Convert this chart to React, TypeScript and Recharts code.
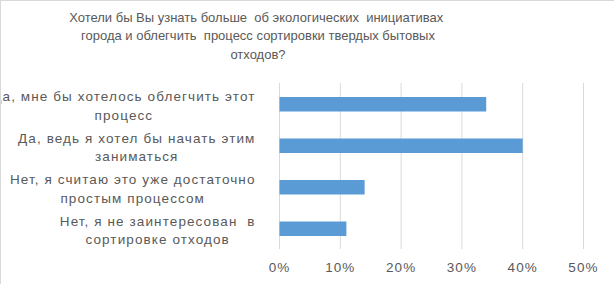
import React from 'react';
import { BarChart, Bar, XAxis, YAxis, CartesianGrid } from 'recharts';

const titleLines = [
  'Хотели бы Вы узнать больше  об экологических  инициативах ',
  'города и облегчить  процесс сортировки твердых бытовых',
  'отходов?',
];

const categories = [
  ['Да, мне бы хотелось облегчить этот', 'процесс'],
  ['Да, ведь я хотел бы начать этим', 'заниматься'],
  ['Нет, я считаю это уже достаточно', 'простым процессом'],
  ['Нет, я не заинтересован  в', 'сортировке отходов'],
];

const values = [34, 40, 14, 11];
const xTicks = [0, 10, 20, 30, 40, 50];

const data = categories.map((lines, i) => ({ name: lines.join('\n'), value: values[i] }));

const FONT = '"Liberation Sans", Arial, sans-serif';
const TITLE_SIZE = 13;
const FONT_SIZE = 13.5;
const SPACING = 1.1;
const TEXT_COLOR = '#595959';

let ctx: CanvasRenderingContext2D | null = null;
function measure(s: string) {
  if (!ctx) {
    ctx = document.createElement('canvas').getContext('2d');
  }
  if (!ctx) return s.length * 7;
  ctx.font = `${FONT_SIZE}px "Liberation Sans"`;
  (ctx as any).letterSpacing = `${SPACING}px`;
  return ctx.measureText(s).width;
}

// lines centred inside a block that is right-aligned to the axis
function CategoryTick(props: any) {
  const { x, y, payload } = props;
  const lines: string[] = String(payload.value).split('\n');
  const w = Math.max(...lines.map(measure));
  const cx = x - w / 2;
  return (
    <g>
      {lines.map((line, i) => (
        <text
          key={i}
          x={cx}
          y={y - 2.4 + i * 18.4}
          textAnchor="middle"
          fill={TEXT_COLOR}
          fontSize={FONT_SIZE}
          fontFamily={FONT}
          style={{ whiteSpace: 'pre', letterSpacing: SPACING }}
        >
          {line}
        </text>
      ))}
    </g>
  );
}

export default function App() {
  return (
    <div
      style={{
        position: 'absolute',
        left: 0,
        top: 0,
        width: 614,
        height: 284,
        background: '#fff',
        overflow: 'hidden',
        fontFamily: FONT,
      }}
    >
      <div
        style={{
          position: 'absolute',
          left: 0,
          top: 0,
          width: 614,
          height: 284,
          borderTop: '1px solid #d9d9d9',
          borderLeft: '1px solid #d9d9d9',
          boxSizing: 'border-box',
          pointerEvents: 'none',
          zIndex: 2,
        }}
      />
      <div
        style={{
          position: 'absolute',
          left: 0,
          top: 8.5,
          width: 516,
          textAlign: 'center',
          fontSize: TITLE_SIZE,
          lineHeight: '18.8px',
          color: TEXT_COLOR,
          whiteSpace: 'pre',
        }}
      >
        {titleLines.map((l, i) => (
          <div key={i}>{l}</div>
        ))}
      </div>
      <BarChart
        width={614}
        height={284}
        data={data}
        layout="vertical"
        margin={{ top: 83, right: 30.5, bottom: 0, left: 0 }}
      >
        <CartesianGrid horizontal={false} stroke="#d9d9d9" strokeWidth={1} />
        <XAxis
          type="number"
          domain={[0, 50]}
          ticks={xTicks}
          tickFormatter={(v) => `${v}%`}
          axisLine={false}
          tickLine={false}
          tickMargin={7.5}
          height={35}
          interval={0}
          tick={{ fill: TEXT_COLOR, fontSize: FONT_SIZE, fontFamily: FONT, letterSpacing: SPACING }}
        />
        <YAxis
          type="category"
          dataKey="name"
          width={279.5}
          axisLine={false}
          tickLine={false}
          tickMargin={18}
          interval={0}
          tick={<CategoryTick />}
        />
        <Bar dataKey="value" fill="#5b9bd5" barSize={14.5} isAnimationActive={false} />
      </BarChart>
    </div>
  );
}
